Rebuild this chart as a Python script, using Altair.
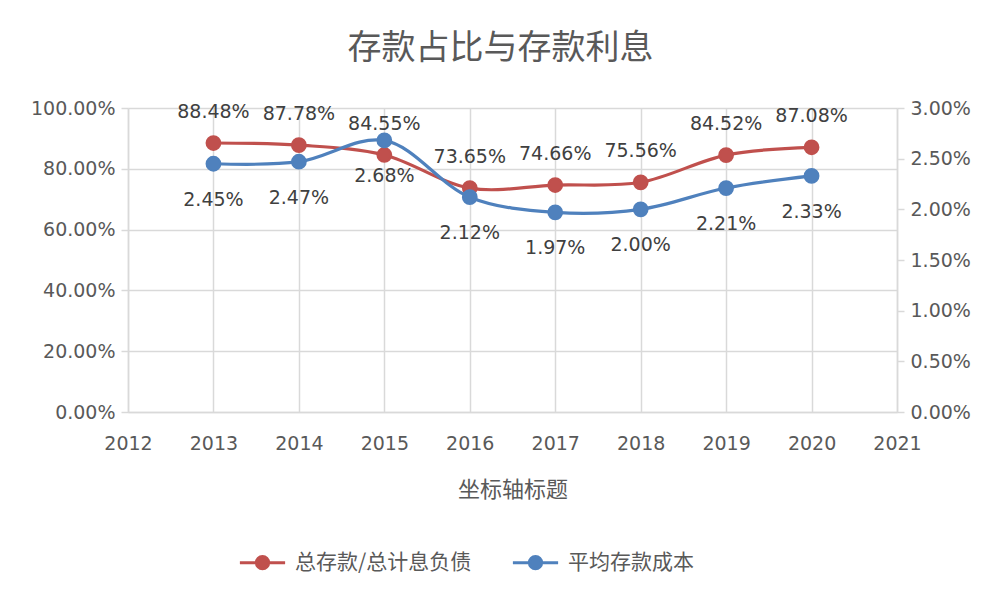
import altair as alt
import pandas as pd

years = [2013, 2014, 2015, 2016, 2017, 2018, 2019, 2020]
deposit_share = [0.8848, 0.8778, 0.8455, 0.7365, 0.7466, 0.7556, 0.8452, 0.8708]
deposit_cost = [0.0245, 0.0247, 0.0268, 0.0212, 0.0197, 0.0200, 0.0221, 0.0233]
series_names = ["总存款/总计息负债", "平均存款成本"]
series_colors = ["#C0504D", "#4F81BD"]
x_ticks = list(range(2012, 2022))
left_ticks = [0, 0.2, 0.4, 0.6, 0.8, 1.0]
right_ticks = [0, 0.005, 0.01, 0.015, 0.02, 0.025, 0.03]

FONT = "DejaVu Sans, Noto Sans CJK SC"
CJK = "Noto Sans CJK SC"
TXT = "#595959"
GRID = "#D9D9D9"

red_df = pd.DataFrame({"year": years, "value": deposit_share, "series": series_names[0]})
blue_df = pd.DataFrame({"year": years, "value": deposit_cost, "series": series_names[1]})

x_enc = alt.X("year:Q", scale=alt.Scale(domain=[2012, 2021], nice=False, zero=False),
              axis=alt.Axis(values=x_ticks, format="d", title="坐标轴标题", grid=True,
                            gridColor=GRID, gridWidth=1.5, ticks=False, domainColor=GRID,
                            domainWidth=1.5, labelPadding=22, labelFontSize=19,
                            labelFlush=False, labelColor=TXT, labelFont=FONT, titleFont=CJK,
                            titleFontSize=22, titleColor=TXT, titleFontWeight="normal",
                            titlePadding=26))

color_scale = alt.Scale(domain=series_names, range=series_colors)
legend = alt.Legend(title=None, orient="none", legendX=116, legendY=436, direction="horizontal",
                    symbolType="M -1.33 0 L -0.36 0 M 0.36 0 L 1.33 0 M -0.36 0 A 0.36 0.36 0 1 1 0.36 0 A 0.36 0.36 0 1 1 -0.36 0",
                    symbolSize=1156, symbolStrokeWidth=3, labelFont=CJK, labelFontSize=21,
                    labelLimit=400, labelColor=TXT, columnPadding=34, labelOffset=14)


def series_layer(df, domain, ticks, orient, dy):
    y_enc = alt.Y("value:Q", scale=alt.Scale(domain=domain, nice=False),
                  axis=alt.Axis(values=ticks, format=".2%", orient=orient, title=None,
                                grid=(orient == "left"), gridColor=GRID, gridWidth=1.5,
                                tickColor=GRID, tickSize=7, tickWidth=1.5, domainColor=GRID,
                                domainWidth=1.5, labelFontSize=19, labelColor=TXT,
                                labelFont=FONT, labelPadding=6))
    line = alt.Chart(df).mark_line(strokeWidth=3.2, interpolate="catmull-rom").encode(
        x=x_enc, y=y_enc,
        color=alt.Color("series:N", scale=color_scale, legend=legend))
    pts = alt.Chart(df).mark_point(filled=True, size=190, opacity=1).encode(
        x="year:Q", y="value:Q",
        fill=alt.Fill("series:N", scale=color_scale, legend=legend),
        stroke=alt.Stroke("series:N", scale=color_scale, legend=legend))
    txt = alt.Chart(df).mark_text(dy=dy, fontSize=19, font=FONT, color="#404040").encode(
        x="year:Q", y="value:Q", text=alt.Text("value:Q", format=".2%"))
    return alt.layer(line, pts, txt)


left = series_layer(red_df, [0, 1], left_ticks, "left", -31)
right = series_layer(blue_df, [0, 0.03], right_ticks, "right", 36)

chart = alt.layer(left, right).resolve_scale(y="independent").properties(
    width=769, height=304,
    title=alt.TitleParams("存款占比与存款利息", font=CJK, fontSize=34, color=TXT,
                          fontWeight="normal", offset=33, anchor="middle", dx=-12),
    autosize=alt.AutoSizeParams(type="none"),
    padding={"left": 128, "top": 108, "right": 106, "bottom": 191},
    background="white",
).configure_view(stroke=None)

chart.save("out.html", embed_options={"renderer": "svg", "actions": False})
